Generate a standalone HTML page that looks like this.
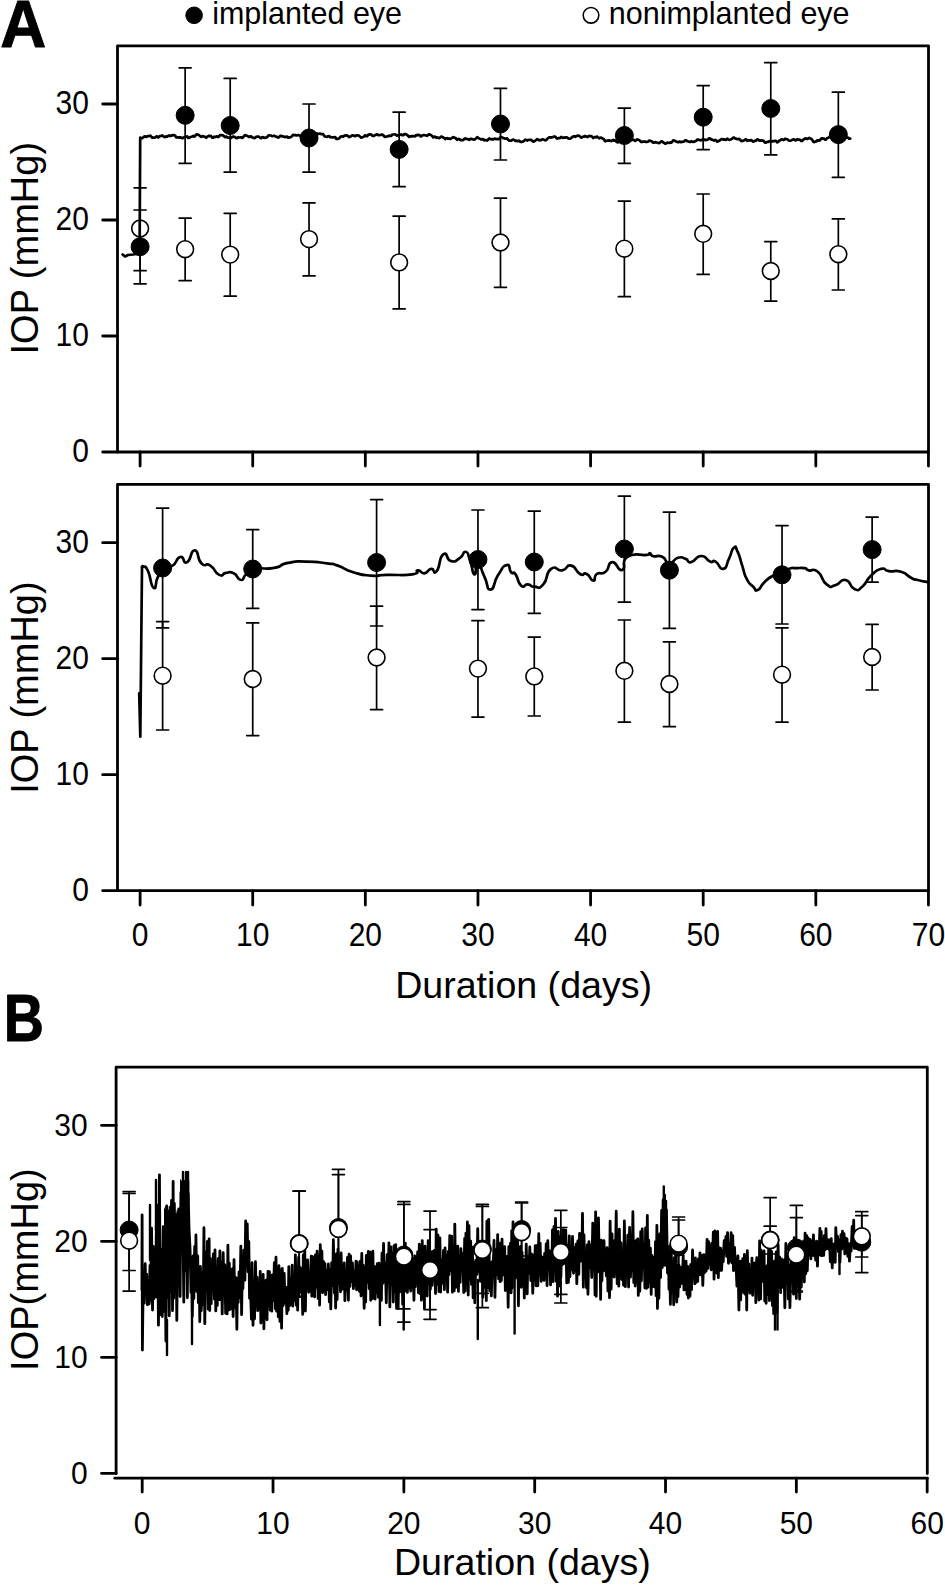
<!DOCTYPE html>
<html><head><meta charset="utf-8"><style>
html,body{margin:0;padding:0;background:#fff;}
svg{display:block;}
text{font-family:"Liberation Sans",Arial,sans-serif;fill:#000;}
</style></head><body>
<svg width="945" height="1585" viewBox="0 0 945 1585" stroke="#000" fill="#000">
<rect x="0" y="0" width="945" height="1585" fill="#fff" stroke="none"/>
<g>
<rect x="117.5" y="45.8" width="811.00" height="406.20" fill="none" stroke-width="2.8" stroke-linejoin="round"/>
<line x1="102.70" y1="452.00" x2="117.50" y2="452.00" stroke-width="2.8" stroke-linecap="round"/>
<text stroke="none" transform="translate(88.90,462.40) scale(1,1.1)" font-size="30" text-anchor="end">0</text>
<line x1="102.70" y1="336.00" x2="117.50" y2="336.00" stroke-width="2.8" stroke-linecap="round"/>
<text stroke="none" transform="translate(88.90,346.40) scale(1,1.1)" font-size="30" text-anchor="end">10</text>
<line x1="102.70" y1="220.00" x2="117.50" y2="220.00" stroke-width="2.8" stroke-linecap="round"/>
<text stroke="none" transform="translate(88.90,230.40) scale(1,1.1)" font-size="30" text-anchor="end">20</text>
<line x1="102.70" y1="104.00" x2="117.50" y2="104.00" stroke-width="2.8" stroke-linecap="round"/>
<text stroke="none" transform="translate(88.90,114.40) scale(1,1.1)" font-size="30" text-anchor="end">30</text>
<line x1="140.10" y1="452.00" x2="140.10" y2="466.00" stroke-width="2.8" stroke-linecap="round"/>
<line x1="252.72" y1="452.00" x2="252.72" y2="466.00" stroke-width="2.8" stroke-linecap="round"/>
<line x1="365.34" y1="452.00" x2="365.34" y2="466.00" stroke-width="2.8" stroke-linecap="round"/>
<line x1="477.96" y1="452.00" x2="477.96" y2="466.00" stroke-width="2.8" stroke-linecap="round"/>
<line x1="590.58" y1="452.00" x2="590.58" y2="466.00" stroke-width="2.8" stroke-linecap="round"/>
<line x1="703.20" y1="452.00" x2="703.20" y2="466.00" stroke-width="2.8" stroke-linecap="round"/>
<line x1="815.82" y1="452.00" x2="815.82" y2="466.00" stroke-width="2.8" stroke-linecap="round"/>
<line x1="928.44" y1="452.00" x2="928.44" y2="466.00" stroke-width="2.8" stroke-linecap="round"/>
<rect x="117.5" y="484.3" width="811.00" height="406.40" fill="none" stroke-width="2.8" stroke-linejoin="round"/>
<line x1="102.70" y1="890.70" x2="117.50" y2="890.70" stroke-width="2.8" stroke-linecap="round"/>
<text stroke="none" transform="translate(88.90,901.10) scale(1,1.1)" font-size="30" text-anchor="end">0</text>
<line x1="102.70" y1="774.70" x2="117.50" y2="774.70" stroke-width="2.8" stroke-linecap="round"/>
<text stroke="none" transform="translate(88.90,785.10) scale(1,1.1)" font-size="30" text-anchor="end">10</text>
<line x1="102.70" y1="658.70" x2="117.50" y2="658.70" stroke-width="2.8" stroke-linecap="round"/>
<text stroke="none" transform="translate(88.90,669.10) scale(1,1.1)" font-size="30" text-anchor="end">20</text>
<line x1="102.70" y1="542.70" x2="117.50" y2="542.70" stroke-width="2.8" stroke-linecap="round"/>
<text stroke="none" transform="translate(88.90,553.10) scale(1,1.1)" font-size="30" text-anchor="end">30</text>
<line x1="140.10" y1="890.70" x2="140.10" y2="905.00" stroke-width="2.8" stroke-linecap="round"/>
<text stroke="none" transform="translate(140.10,946.20) scale(1,1.1)" font-size="30" text-anchor="middle">0</text>
<line x1="252.72" y1="890.70" x2="252.72" y2="905.00" stroke-width="2.8" stroke-linecap="round"/>
<text stroke="none" transform="translate(252.72,946.20) scale(1,1.1)" font-size="30" text-anchor="middle">10</text>
<line x1="365.34" y1="890.70" x2="365.34" y2="905.00" stroke-width="2.8" stroke-linecap="round"/>
<text stroke="none" transform="translate(365.34,946.20) scale(1,1.1)" font-size="30" text-anchor="middle">20</text>
<line x1="477.96" y1="890.70" x2="477.96" y2="905.00" stroke-width="2.8" stroke-linecap="round"/>
<text stroke="none" transform="translate(477.96,946.20) scale(1,1.1)" font-size="30" text-anchor="middle">30</text>
<line x1="590.58" y1="890.70" x2="590.58" y2="905.00" stroke-width="2.8" stroke-linecap="round"/>
<text stroke="none" transform="translate(590.58,946.20) scale(1,1.1)" font-size="30" text-anchor="middle">40</text>
<line x1="703.20" y1="890.70" x2="703.20" y2="905.00" stroke-width="2.8" stroke-linecap="round"/>
<text stroke="none" transform="translate(703.20,946.20) scale(1,1.1)" font-size="30" text-anchor="middle">50</text>
<line x1="815.82" y1="890.70" x2="815.82" y2="905.00" stroke-width="2.8" stroke-linecap="round"/>
<text stroke="none" transform="translate(815.82,946.20) scale(1,1.1)" font-size="30" text-anchor="middle">60</text>
<line x1="928.44" y1="890.70" x2="928.44" y2="905.00" stroke-width="2.8" stroke-linecap="round"/>
<text stroke="none" transform="translate(928.44,946.20) scale(1,1.1)" font-size="30" text-anchor="middle">70</text>
<path d="M116.1,1473.5 L116.1,1067.2 L927.3,1067.2 L927.3,1473.5" fill="none" stroke-width="2.8" stroke-linejoin="round" stroke-linecap="round"/>
<line x1="114.80" y1="1478.20" x2="927.30" y2="1478.20" stroke-width="2.8" stroke-linecap="round"/>
<line x1="101.50" y1="1473.30" x2="116.10" y2="1473.30" stroke-width="2.8" stroke-linecap="round"/>
<text stroke="none" transform="translate(87.70,1483.70) scale(1,1.05)" font-size="30" text-anchor="end">0</text>
<line x1="101.50" y1="1357.30" x2="116.10" y2="1357.30" stroke-width="2.8" stroke-linecap="round"/>
<text stroke="none" transform="translate(87.70,1367.70) scale(1,1.05)" font-size="30" text-anchor="end">10</text>
<line x1="101.50" y1="1241.30" x2="116.10" y2="1241.30" stroke-width="2.8" stroke-linecap="round"/>
<text stroke="none" transform="translate(87.70,1251.70) scale(1,1.05)" font-size="30" text-anchor="end">20</text>
<line x1="101.50" y1="1125.30" x2="116.10" y2="1125.30" stroke-width="2.8" stroke-linecap="round"/>
<text stroke="none" transform="translate(87.70,1135.70) scale(1,1.05)" font-size="30" text-anchor="end">30</text>
<line x1="142.20" y1="1478.20" x2="142.20" y2="1492.00" stroke-width="2.8" stroke-linecap="round"/>
<text stroke="none" transform="translate(142.20,1533.80) scale(1,1.05)" font-size="30" text-anchor="middle">0</text>
<line x1="273.03" y1="1478.20" x2="273.03" y2="1492.00" stroke-width="2.8" stroke-linecap="round"/>
<text stroke="none" transform="translate(273.03,1533.80) scale(1,1.05)" font-size="30" text-anchor="middle">10</text>
<line x1="403.86" y1="1478.20" x2="403.86" y2="1492.00" stroke-width="2.8" stroke-linecap="round"/>
<text stroke="none" transform="translate(403.86,1533.80) scale(1,1.05)" font-size="30" text-anchor="middle">20</text>
<line x1="534.69" y1="1478.20" x2="534.69" y2="1492.00" stroke-width="2.8" stroke-linecap="round"/>
<text stroke="none" transform="translate(534.69,1533.80) scale(1,1.05)" font-size="30" text-anchor="middle">30</text>
<line x1="665.52" y1="1478.20" x2="665.52" y2="1492.00" stroke-width="2.8" stroke-linecap="round"/>
<text stroke="none" transform="translate(665.52,1533.80) scale(1,1.05)" font-size="30" text-anchor="middle">40</text>
<line x1="796.35" y1="1478.20" x2="796.35" y2="1492.00" stroke-width="2.8" stroke-linecap="round"/>
<text stroke="none" transform="translate(796.35,1533.80) scale(1,1.05)" font-size="30" text-anchor="middle">50</text>
<line x1="927.18" y1="1478.20" x2="927.18" y2="1492.00" stroke-width="2.8" stroke-linecap="round"/>
<text stroke="none" transform="translate(927.18,1533.80) scale(1,1.05)" font-size="30" text-anchor="middle">60</text>
<path d="M139.20,693.30 L140.30,736.70 L142.00,567.00 L143.70,566.70" fill="none" stroke-width="2.7" stroke-linejoin="round" stroke-linecap="round"/>
<path d="M142.00,567.00 C142.57,566.90 141.70,565.37 143.70,566.70 C145.70,568.03 144.67,563.97 148.00,571.00 C151.33,578.03 150.37,585.90 153.70,587.80 C157.03,589.70 154.23,583.97 158.00,576.70 C161.77,569.43 160.13,569.70 165.00,566.00 C169.87,562.30 167.50,568.60 172.60,565.60 C177.70,562.60 175.50,558.13 180.30,557.00 C185.10,555.87 182.17,564.40 187.00,562.20 C191.83,560.00 190.00,550.03 194.80,550.40 C199.60,550.77 196.23,558.23 201.40,563.30 C206.57,568.37 204.37,561.73 210.30,565.60 C216.23,569.47 214.00,572.47 219.20,574.90 C224.40,577.33 221.07,573.43 225.90,572.90 C230.73,572.37 228.73,570.93 233.70,573.30 C238.67,575.67 236.73,579.63 240.80,580.00 C244.87,580.37 241.97,578.23 245.90,574.40 C249.83,570.57 243.70,570.57 252.60,568.50 C261.50,566.43 260.77,570.07 272.60,568.20 C284.43,566.33 277.00,565.10 288.10,562.90 C299.20,560.70 292.93,561.47 305.90,561.60 C318.87,561.73 316.37,561.97 327.00,563.30 C337.63,564.63 329.03,562.63 337.80,565.60 C346.57,568.57 342.20,568.87 353.30,572.20 C364.40,575.53 359.97,574.70 371.10,575.60 C382.23,576.50 373.00,575.30 386.70,574.90 C400.40,574.50 401.83,575.90 412.20,574.40 C422.57,572.90 413.73,570.77 417.80,570.40 C421.87,570.03 419.97,573.80 424.40,573.30 C428.83,572.80 427.00,569.63 431.10,568.90 C435.20,568.17 432.63,575.93 436.70,571.10 C440.77,566.27 438.50,557.73 443.30,554.40 C448.10,551.07 445.53,559.97 451.10,561.10 C456.67,562.23 455.17,560.90 460.00,557.80 C464.83,554.70 462.27,551.07 465.60,551.80 C468.93,552.53 467.07,552.47 470.00,560.00 C472.93,567.53 471.80,573.30 474.40,574.40 C477.00,575.50 474.47,562.53 477.80,563.30 C481.13,564.07 480.10,567.93 484.40,576.70 C488.70,585.47 486.23,589.97 490.70,589.60 C495.17,589.23 492.47,583.77 497.80,575.60 C503.13,567.43 502.27,566.23 506.70,565.10 C511.13,563.97 508.13,569.10 511.10,572.20 C514.07,575.30 512.27,569.93 515.60,574.40 C518.93,578.87 517.03,582.27 521.10,585.60 C525.17,588.93 523.37,584.03 527.80,584.40 C532.23,584.77 529.23,586.70 534.40,586.70 C539.57,586.70 537.73,590.33 543.30,584.40 C548.87,578.47 544.80,573.57 551.10,568.90 C557.40,564.23 555.53,571.50 562.20,570.40 C568.87,569.30 565.17,564.40 571.10,565.60 C577.03,566.80 574.80,571.20 580.00,574.00 C585.20,576.80 582.27,571.77 586.70,574.00 C591.13,576.23 589.97,580.70 593.30,580.70 C596.63,580.70 592.60,576.97 596.70,574.00 C600.80,571.03 600.43,575.73 605.60,571.80 C610.77,567.87 606.67,562.80 612.20,562.20 C617.73,561.60 617.00,571.83 622.20,570.00 C627.40,568.17 619.63,561.73 627.80,556.70 C635.97,551.67 639.30,556.03 646.70,554.90 C654.10,553.77 647.80,552.87 650.00,553.30 C652.20,553.73 649.23,555.07 653.30,556.20 C657.37,557.33 656.87,554.33 662.20,556.70 C667.53,559.07 664.10,562.93 669.30,563.30 C674.50,563.67 672.37,559.27 677.80,557.80 C683.23,556.33 681.17,557.43 685.60,558.90 C690.03,560.37 685.93,563.17 691.10,562.20 C696.27,561.23 694.80,556.20 701.10,556.00 C707.40,555.80 705.17,559.73 710.00,561.60 C714.83,563.47 711.17,559.17 715.60,561.60 C720.03,564.03 718.87,569.80 723.30,568.90 C727.73,568.00 725.40,565.93 728.90,558.90 C732.40,551.87 730.83,550.03 733.80,547.80 C736.77,545.57 735.00,546.27 737.80,552.20 C740.60,558.13 739.23,556.70 742.20,565.60 C745.17,574.50 743.00,571.87 746.70,578.90 C750.40,585.93 749.60,583.00 753.30,586.70 C757.00,590.40 754.10,591.50 757.80,590.00 C761.50,588.50 759.23,587.00 764.40,582.20 C769.57,577.40 767.50,578.67 773.30,575.60 C779.10,572.53 776.23,575.37 781.80,573.00 C787.37,570.63 785.40,570.10 790.00,568.50 C794.60,566.90 790.80,568.30 795.60,568.20 C800.40,568.10 799.97,567.47 804.40,568.20 C808.83,568.93 804.43,569.20 808.90,570.40 C813.37,571.60 811.87,567.13 817.80,571.80 C823.73,576.47 820.77,579.97 826.70,584.40 C832.63,588.83 829.30,586.57 835.60,585.10 C841.90,583.63 839.33,578.73 845.60,580.00 C851.87,581.27 848.87,586.67 854.40,588.90 C859.93,591.13 856.63,591.13 862.20,586.70 C867.77,582.27 864.80,581.53 871.10,575.60 C877.40,569.67 875.17,570.40 881.10,568.90 C887.03,567.40 882.23,570.13 888.90,571.10 C895.57,572.07 893.70,569.57 901.10,571.80 C908.50,574.03 905.53,575.07 911.10,577.80 C916.67,580.53 912.23,578.53 917.80,580.00 C923.37,581.47 924.47,581.47 927.80,582.20" fill="none" stroke-width="2.7" stroke-linejoin="round" stroke-linecap="round"/>
<path d="M140.10,210.00V283.80M134.10,210.00h12.0M134.10,283.80h12.0" stroke-width="1.7" fill="none" stroke-linecap="round"/>
<path d="M185.15,67.80V163.30M179.15,67.80h12.0M179.15,163.30h12.0" stroke-width="1.7" fill="none" stroke-linecap="round"/>
<path d="M230.20,78.40V172.20M224.20,78.40h12.0M224.20,172.20h12.0" stroke-width="1.7" fill="none" stroke-linecap="round"/>
<path d="M309.03,104.00V172.20M303.03,104.00h12.0M303.03,172.20h12.0" stroke-width="1.7" fill="none" stroke-linecap="round"/>
<path d="M399.13,112.20V186.70M393.13,112.20h12.0M393.13,186.70h12.0" stroke-width="1.7" fill="none" stroke-linecap="round"/>
<path d="M500.48,88.40V160.00M494.48,88.40h12.0M494.48,160.00h12.0" stroke-width="1.7" fill="none" stroke-linecap="round"/>
<path d="M624.37,108.20V163.30M618.37,108.20h12.0M618.37,163.30h12.0" stroke-width="1.7" fill="none" stroke-linecap="round"/>
<path d="M703.20,85.60V149.60M697.20,85.60h12.0M697.20,149.60h12.0" stroke-width="1.7" fill="none" stroke-linecap="round"/>
<path d="M770.77,62.70V154.90M764.77,62.70h12.0M764.77,154.90h12.0" stroke-width="1.7" fill="none" stroke-linecap="round"/>
<path d="M838.34,92.20V177.30M832.34,92.20h12.0M832.34,177.30h12.0" stroke-width="1.7" fill="none" stroke-linecap="round"/>
<path d="M140.10,187.80V270.70M134.10,187.80h12.0M134.10,270.70h12.0" stroke-width="1.7" fill="none" stroke-linecap="round"/>
<path d="M185.15,218.20V280.70M179.15,218.20h12.0M179.15,280.70h12.0" stroke-width="1.7" fill="none" stroke-linecap="round"/>
<path d="M230.20,213.30V296.20M224.20,213.30h12.0M224.20,296.20h12.0" stroke-width="1.7" fill="none" stroke-linecap="round"/>
<path d="M309.03,202.90V275.80M303.03,202.90h12.0M303.03,275.80h12.0" stroke-width="1.7" fill="none" stroke-linecap="round"/>
<path d="M399.13,216.20V308.90M393.13,216.20h12.0M393.13,308.90h12.0" stroke-width="1.7" fill="none" stroke-linecap="round"/>
<path d="M500.48,198.20V287.30M494.48,198.20h12.0M494.48,287.30h12.0" stroke-width="1.7" fill="none" stroke-linecap="round"/>
<path d="M624.37,201.10V296.70M618.37,201.10h12.0M618.37,296.70h12.0" stroke-width="1.7" fill="none" stroke-linecap="round"/>
<path d="M703.20,194.00V274.40M697.20,194.00h12.0M697.20,274.40h12.0" stroke-width="1.7" fill="none" stroke-linecap="round"/>
<path d="M770.77,241.60V301.10M764.77,241.60h12.0M764.77,301.10h12.0" stroke-width="1.7" fill="none" stroke-linecap="round"/>
<path d="M838.34,218.90V290.00M832.34,218.90h12.0M832.34,290.00h12.0" stroke-width="1.7" fill="none" stroke-linecap="round"/>
<circle cx="140.10" cy="246.70" r="9.0"/>
<circle cx="185.15" cy="115.30" r="9.0"/>
<circle cx="230.20" cy="125.50" r="9.0"/>
<circle cx="309.03" cy="138.00" r="9.0"/>
<circle cx="399.13" cy="149.40" r="9.0"/>
<circle cx="500.48" cy="124.00" r="9.0"/>
<circle cx="624.37" cy="135.50" r="9.0"/>
<circle cx="703.20" cy="117.20" r="9.0"/>
<circle cx="770.77" cy="108.50" r="9.0"/>
<circle cx="838.34" cy="134.60" r="9.0"/>
<circle cx="140.10" cy="228.50" r="8.4" fill="#fff" stroke-width="1.6"/>
<circle cx="185.15" cy="249.20" r="8.4" fill="#fff" stroke-width="1.6"/>
<circle cx="230.20" cy="254.60" r="8.4" fill="#fff" stroke-width="1.6"/>
<circle cx="309.03" cy="239.10" r="8.4" fill="#fff" stroke-width="1.6"/>
<circle cx="399.13" cy="262.40" r="8.4" fill="#fff" stroke-width="1.6"/>
<circle cx="500.48" cy="242.50" r="8.4" fill="#fff" stroke-width="1.6"/>
<circle cx="624.37" cy="248.70" r="8.4" fill="#fff" stroke-width="1.6"/>
<circle cx="703.20" cy="233.80" r="8.4" fill="#fff" stroke-width="1.6"/>
<circle cx="770.77" cy="271.00" r="8.4" fill="#fff" stroke-width="1.6"/>
<circle cx="838.34" cy="254.20" r="8.4" fill="#fff" stroke-width="1.6"/>
<path d="M122.60,254.50 L125.00,256.50 L128.00,255.00 L133.00,254.50 L139.60,253.50 L140.20,137.70 L140.20,138.20 L141.20,138.00 L142.20,138.07 L143.20,137.36 L144.20,136.61 L145.20,136.33 L146.20,136.99 L147.20,136.21 L148.20,136.04 L149.20,136.14 L150.20,135.61 L151.20,136.45 L152.20,137.77 L153.20,137.52 L154.20,137.71 L155.20,137.50 L156.20,136.60 L157.20,136.42 L158.20,137.47 L159.20,136.61 L160.20,136.00 L161.20,135.96 L162.20,135.46 L163.20,136.06 L164.20,136.92 L165.20,137.12 L166.20,136.44 L167.20,136.59 L168.20,135.91 L169.20,135.42 L170.20,136.09 L171.20,135.67 L172.20,135.43 L173.20,135.16 L174.20,135.20 L175.20,135.71 L176.20,137.32 L177.20,137.53 L178.20,137.28 L179.20,137.62 L180.20,137.35 L181.20,137.66 L182.20,138.26 L183.20,137.94 L184.20,137.02 L185.20,136.99 L186.20,136.49 L187.20,136.47 L188.20,137.94 L189.20,137.89 L190.20,137.13 L191.20,136.79 L192.20,136.39 L193.20,135.88 L194.20,136.71 L195.20,135.92 L196.20,134.65 L197.20,134.38 L198.20,134.79 L199.20,135.31 L200.20,136.06 L201.20,136.80 L202.20,136.20 L203.20,136.37 L204.20,136.53 L205.20,136.95 L206.20,137.73 L207.20,136.83 L208.20,136.13 L209.20,135.71 L210.20,136.15 L211.20,136.22 L212.20,137.62 L213.20,137.74 L214.20,136.73 L215.20,137.08 L216.20,136.60 L217.20,136.31 L218.20,137.06 L219.20,136.15 L220.20,135.01 L221.20,135.00 L222.20,135.29 L223.20,135.37 L224.20,136.48 L225.20,137.30 L226.20,136.49 L227.20,137.28 L228.20,137.66 L229.20,137.51 L230.20,138.20 L231.20,137.89 L232.20,136.79 L233.20,136.65 L234.20,136.87 L235.20,137.12 L236.20,138.21 L237.20,138.06 L238.20,137.22 L239.20,137.49 L240.20,137.43 L241.20,137.30 L242.20,137.96 L243.20,137.11 L244.20,135.69 L245.20,135.07 L246.20,135.57 L247.20,135.83 L248.20,136.35 L249.20,136.99 L250.20,136.41 L251.20,136.45 L252.20,137.48 L253.20,137.55 L254.20,138.16 L255.20,137.72 L256.20,136.73 L257.20,136.61 L258.20,136.65 L259.20,136.84 L260.20,137.90 L261.20,138.24 L262.20,137.03 L263.20,137.29 L264.20,137.91 L265.20,137.62 L266.20,137.70 L267.20,137.12 L268.20,135.64 L269.20,135.34 L270.20,135.50 L271.20,135.54 L272.20,136.26 L273.20,136.02 L274.20,135.70 L275.20,136.12 L276.20,136.79 L277.20,136.93 L278.20,137.55 L279.20,137.02 L280.20,135.80 L281.20,135.75 L282.20,136.54 L283.20,136.31 L284.20,136.86 L285.20,137.09 L286.20,136.71 L287.20,136.66 L288.20,137.75 L289.20,137.32 L290.20,137.31 L291.20,137.02 L292.20,135.71 L293.20,134.91 L294.20,135.20 L295.20,135.02 L296.20,135.37 L297.20,135.30 L298.20,135.04 L299.20,135.31 L300.20,136.01 L301.20,136.23 L302.20,136.52 L303.20,136.20 L304.20,135.15 L305.20,134.53 L306.20,135.08 L307.20,135.22 L308.20,135.57 L309.20,135.42 L310.20,134.87 L311.20,135.05 L312.20,136.07 L313.20,136.12 L314.20,136.08 L315.20,135.15 L316.20,133.68 L317.20,133.56 L318.20,133.93 L319.20,133.82 L320.20,133.55 L321.20,134.23 L322.20,134.00 L323.20,134.09 L324.20,135.95 L325.20,136.66 L326.20,136.72 L327.20,136.85 L328.20,136.15 L329.20,136.21 L330.20,137.23 L331.20,137.22 L332.20,137.33 L333.20,137.33 L334.20,137.28 L335.20,137.04 L336.20,138.80 L337.20,138.95 L338.20,138.65 L339.20,138.29 L340.20,137.22 L341.20,136.37 L342.20,136.51 L343.20,136.71 L344.20,135.71 L345.20,135.65 L346.20,135.38 L347.20,135.35 L348.20,136.47 L349.20,137.12 L350.20,136.49 L351.20,136.15 L352.20,135.37 L353.20,135.34 L354.20,135.87 L355.20,136.14 L356.20,135.39 L357.20,135.39 L358.20,135.45 L359.20,135.86 L360.20,136.81 L361.20,137.68 L362.20,137.28 L363.20,136.99 L364.20,136.30 L365.20,135.24 L366.20,136.13 L367.20,136.10 L368.20,134.71 L369.20,134.61 L370.20,134.32 L371.20,134.50 L372.20,135.62 L373.20,136.09 L374.20,135.69 L375.20,135.04 L376.20,134.64 L377.20,134.32 L378.20,135.04 L379.20,135.13 L380.20,134.96 L381.20,134.89 L382.20,134.54 L383.20,135.09 L384.20,136.35 L385.20,137.00 L386.20,136.49 L387.20,136.51 L388.20,136.14 L389.20,135.54 L390.20,135.90 L391.20,135.86 L392.20,134.63 L393.20,134.50 L394.20,134.48 L395.20,134.28 L396.20,135.15 L397.20,135.69 L398.20,135.09 L399.20,134.98 L400.20,134.91 L401.20,134.36 L402.20,135.20 L403.20,135.22 L404.20,134.19 L405.20,134.02 L406.20,134.41 L407.20,134.89 L408.20,136.01 L409.20,136.97 L410.20,136.32 L411.20,136.09 L412.20,136.34 L413.20,136.16 L414.20,136.20 L415.20,136.38 L416.20,135.17 L417.20,134.95 L418.20,135.09 L419.20,134.79 L420.20,135.99 L421.20,136.46 L422.20,135.38 L423.20,135.21 L424.20,135.11 L425.20,135.28 L426.20,135.56 L427.20,135.78 L428.20,134.65 L429.20,134.23 L430.20,134.76 L431.20,135.16 L432.20,136.12 L433.20,137.40 L434.20,136.71 L435.20,136.85 L436.20,137.80 L437.20,137.42 L438.20,137.91 L439.20,138.07 L440.20,137.44 L441.20,136.54 L442.20,136.87 L443.20,137.59 L444.20,137.95 L445.20,139.05 L446.20,138.33 L447.20,138.21 L448.20,138.77 L449.20,138.54 L450.20,138.93 L451.20,138.48 L452.20,137.75 L453.20,137.04 L454.20,137.72 L455.20,137.73 L456.20,138.94 L457.20,139.88 L458.20,138.94 L459.20,139.02 L460.20,139.90 L461.20,140.21 L462.20,140.05 L463.20,140.07 L464.20,138.93 L465.20,138.43 L466.20,138.96 L467.20,138.92 L468.20,139.32 L469.20,139.82 L470.20,139.10 L471.20,138.74 L472.20,139.11 L473.20,139.37 L474.20,139.57 L475.20,139.15 L476.20,138.16 L477.20,137.07 L478.20,137.97 L479.20,138.40 L480.20,138.87 L481.20,139.50 L482.20,139.15 L483.20,139.15 L484.20,140.28 L485.20,140.21 L486.20,140.18 L487.20,140.56 L488.20,139.54 L489.20,138.47 L490.20,138.92 L491.20,139.31 L492.20,139.09 L493.20,139.49 L494.20,138.82 L495.20,138.58 L496.20,139.09 L497.20,139.18 L498.20,139.10 L499.20,138.99 L500.20,137.43 L501.20,136.89 L502.20,137.38 L503.20,138.14 L504.20,138.25 L505.20,138.71 L506.20,138.55 L507.20,138.43 L508.20,139.93 L509.20,140.59 L510.20,140.50 L511.20,140.73 L512.20,139.95 L513.20,139.55 L514.20,139.90 L515.20,140.92 L516.20,140.65 L517.20,141.12 L518.20,140.76 L519.20,140.72 L520.20,141.68 L521.20,142.03 L522.20,141.64 L523.20,141.57 L524.20,140.74 L525.20,139.56 L526.20,140.12 L527.20,140.53 L528.20,139.95 L529.20,139.98 L530.20,139.73 L531.20,139.79 L532.20,140.82 L533.20,141.68 L534.20,141.31 L535.20,140.75 L536.20,139.96 L537.20,139.15 L538.20,139.61 L539.20,140.32 L540.20,140.03 L541.20,140.07 L542.20,139.38 L543.20,139.35 L544.20,139.84 L545.20,140.39 L546.20,139.91 L547.20,138.96 L548.20,138.02 L549.20,137.37 L550.20,137.29 L551.20,137.59 L552.20,137.15 L553.20,137.09 L554.20,136.55 L555.20,136.54 L556.20,137.71 L557.20,138.65 L558.20,138.15 L559.20,138.16 L560.20,137.94 L561.20,136.92 L562.20,137.54 L563.20,137.85 L564.20,137.47 L565.20,137.61 L566.20,137.27 L567.20,137.56 L568.20,138.49 L569.20,138.76 L570.20,138.64 L571.20,137.72 L572.20,137.32 L573.20,136.37 L574.20,136.29 L575.20,136.84 L576.20,136.07 L577.20,135.82 L578.20,135.52 L579.20,135.72 L580.20,136.83 L581.20,137.66 L582.20,137.18 L583.20,136.57 L584.20,136.59 L585.20,135.95 L586.20,136.56 L587.20,137.08 L588.20,136.37 L589.20,135.80 L590.20,136.22 L591.20,136.15 L592.20,136.72 L593.20,138.01 L594.20,137.34 L595.20,136.85 L596.20,137.45 L597.20,136.71 L598.20,137.37 L599.20,138.38 L600.20,137.88 L601.20,137.70 L602.20,138.35 L603.20,138.70 L604.20,139.93 L605.20,141.25 L606.20,140.79 L607.20,140.70 L608.20,140.74 L609.20,140.28 L610.20,140.73 L611.20,141.09 L612.20,140.39 L613.20,139.98 L614.20,140.65 L615.20,140.36 L616.20,141.48 L617.20,142.35 L618.20,142.20 L619.20,141.27 L620.20,141.16 L621.20,140.71 L622.20,140.75 L623.20,141.13 L624.20,139.89 L625.20,139.30 L626.20,139.03 L627.20,139.22 L628.20,139.76 L629.20,140.74 L630.20,140.73 L631.20,140.10 L632.20,139.96 L633.20,139.83 L634.20,140.13 L635.20,140.84 L636.20,140.19 L637.20,139.47 L638.20,139.85 L639.20,140.00 L640.20,140.91 L641.20,141.99 L642.20,142.02 L643.20,141.53 L644.20,141.63 L645.20,141.63 L646.20,141.97 L647.20,141.84 L648.20,141.46 L649.20,140.59 L650.20,140.97 L651.20,141.02 L652.20,141.71 L653.20,142.73 L654.20,142.56 L655.20,142.21 L656.20,142.51 L657.20,142.54 L658.20,142.99 L659.20,143.03 L660.20,142.32 L661.20,141.46 L662.20,141.44 L663.20,142.42 L664.20,142.86 L665.20,143.64 L666.20,143.40 L667.20,142.63 L668.20,142.75 L669.20,143.02 L670.20,142.42 L671.20,142.67 L672.20,141.73 L673.20,140.30 L674.20,140.46 L675.20,141.05 L676.20,141.47 L677.20,141.91 L678.20,142.26 L679.20,141.65 L680.20,141.86 L681.20,142.23 L682.20,141.85 L683.20,141.76 L684.20,141.22 L685.20,140.33 L686.20,140.29 L687.20,141.23 L688.20,141.41 L689.20,141.75 L690.20,142.03 L691.20,141.17 L692.20,141.76 L693.20,141.98 L694.20,141.64 L695.20,141.32 L696.20,140.76 L697.20,139.57 L698.20,139.67 L699.20,139.92 L700.20,140.13 L701.20,140.36 L702.20,139.91 L703.20,139.10 L704.20,139.54 L705.20,140.14 L706.20,139.83 L707.20,139.93 L708.20,139.40 L709.20,138.24 L710.20,138.54 L711.20,139.53 L712.20,139.57 L713.20,140.25 L714.20,140.56 L715.20,139.88 L716.20,140.40 L717.20,141.63 L718.20,141.29 L719.20,140.86 L720.20,140.18 L721.20,139.06 L722.20,139.21 L723.20,139.61 L724.20,139.35 L725.20,139.60 L726.20,139.82 L727.20,138.75 L728.20,139.35 L729.20,139.91 L730.20,139.56 L731.20,139.17 L732.20,138.71 L733.20,137.50 L734.20,137.64 L735.20,138.58 L736.20,138.71 L737.20,139.19 L738.20,139.17 L739.20,138.84 L740.20,139.83 L741.20,141.00 L742.20,141.14 L743.20,140.54 L744.20,140.38 L745.20,139.45 L746.20,139.43 L747.20,140.85 L748.20,140.33 L749.20,140.25 L750.20,140.59 L751.20,140.01 L752.20,140.83 L753.20,141.67 L754.20,141.27 L755.20,140.65 L756.20,140.55 L757.20,139.31 L758.20,139.72 L759.20,140.43 L760.20,140.68 L761.20,140.29 L762.20,140.60 L763.20,140.51 L764.20,141.59 L765.20,142.74 L766.20,142.51 L767.20,141.89 L768.20,141.94 L769.20,141.30 L770.20,141.11 L771.20,141.56 L772.20,141.35 L773.20,141.01 L774.20,141.15 L775.20,140.75 L776.20,141.04 L777.20,142.28 L778.20,141.98 L779.20,140.64 L780.20,140.53 L781.20,139.27 L782.20,139.28 L783.20,140.03 L784.20,139.75 L785.20,138.73 L786.20,139.11 L787.20,139.25 L788.20,140.03 L789.20,140.74 L790.20,140.77 L791.20,140.41 L792.20,139.80 L793.20,139.41 L794.20,139.35 L795.20,140.34 L796.20,140.24 L797.20,139.17 L798.20,139.64 L799.20,139.58 L800.20,140.02 L801.20,140.88 L802.20,140.85 L803.20,139.55 L804.20,139.18 L805.20,138.43 L806.20,138.53 L807.20,138.99 L808.20,138.57 L809.20,137.83 L810.20,138.43 L811.20,138.72 L812.20,139.90 L813.20,141.52 L814.20,142.19 L815.20,141.61 L816.20,141.49 L817.20,140.43 L818.20,140.24 L819.20,140.73 L820.20,140.05 L821.20,138.49 L822.20,138.34 L823.20,138.58 L824.20,138.69 L825.20,139.71 L826.20,139.43 L827.20,137.98 L828.20,137.79 L829.20,137.16 L830.20,136.45 L831.20,136.80 L832.20,136.24 L833.20,135.48 L834.20,135.98 L835.20,135.90 L836.20,136.70 L837.20,137.62 L838.20,137.80 L839.20,137.37 L840.20,137.15 L841.20,137.11 L842.20,137.09 L843.20,137.97 L844.20,137.73 L845.20,136.44 L846.20,136.73 L847.20,137.68 L848.20,137.60 L849.20,138.74 L850.20,138.66" fill="none" stroke-width="2.7" stroke-linejoin="round" stroke-linecap="round"/>
<path d="M162.62,508.20V627.80M156.62,508.20h12.0M156.62,627.80h12.0" stroke-width="1.7" fill="none" stroke-linecap="round"/>
<path d="M252.72,529.60V608.40M246.72,529.60h12.0M246.72,608.40h12.0" stroke-width="1.7" fill="none" stroke-linecap="round"/>
<path d="M376.60,499.60V626.00M370.60,499.60h12.0M370.60,626.00h12.0" stroke-width="1.7" fill="none" stroke-linecap="round"/>
<path d="M477.96,510.00V609.60M471.96,510.00h12.0M471.96,609.60h12.0" stroke-width="1.7" fill="none" stroke-linecap="round"/>
<path d="M534.27,511.10V613.30M528.27,511.10h12.0M528.27,613.30h12.0" stroke-width="1.7" fill="none" stroke-linecap="round"/>
<path d="M624.37,496.20V602.20M618.37,496.20h12.0M618.37,602.20h12.0" stroke-width="1.7" fill="none" stroke-linecap="round"/>
<path d="M669.41,512.20V628.40M663.41,512.20h12.0M663.41,628.40h12.0" stroke-width="1.7" fill="none" stroke-linecap="round"/>
<path d="M782.03,525.60V624.00M776.03,525.60h12.0M776.03,624.00h12.0" stroke-width="1.7" fill="none" stroke-linecap="round"/>
<path d="M872.13,517.10V582.20M866.13,517.10h12.0M866.13,582.20h12.0" stroke-width="1.7" fill="none" stroke-linecap="round"/>
<path d="M162.62,621.60V730.00M156.62,621.60h12.0M156.62,730.00h12.0" stroke-width="1.7" fill="none" stroke-linecap="round"/>
<path d="M252.72,622.90V735.60M246.72,622.90h12.0M246.72,735.60h12.0" stroke-width="1.7" fill="none" stroke-linecap="round"/>
<path d="M376.60,606.20V709.60M370.60,606.20h12.0M370.60,709.60h12.0" stroke-width="1.7" fill="none" stroke-linecap="round"/>
<path d="M477.96,620.70V717.10M471.96,620.70h12.0M471.96,717.10h12.0" stroke-width="1.7" fill="none" stroke-linecap="round"/>
<path d="M534.27,637.10V716.00M528.27,637.10h12.0M528.27,716.00h12.0" stroke-width="1.7" fill="none" stroke-linecap="round"/>
<path d="M624.37,620.00V722.20M618.37,620.00h12.0M618.37,722.20h12.0" stroke-width="1.7" fill="none" stroke-linecap="round"/>
<path d="M669.41,641.80V726.70M663.41,641.80h12.0M663.41,726.70h12.0" stroke-width="1.7" fill="none" stroke-linecap="round"/>
<path d="M782.03,627.80V722.20M776.03,627.80h12.0M776.03,722.20h12.0" stroke-width="1.7" fill="none" stroke-linecap="round"/>
<path d="M872.13,624.40V690.00M866.13,624.40h12.0M866.13,690.00h12.0" stroke-width="1.7" fill="none" stroke-linecap="round"/>
<circle cx="162.62" cy="568.00" r="9.0"/>
<circle cx="252.72" cy="569.00" r="9.0"/>
<circle cx="376.60" cy="562.50" r="9.0"/>
<circle cx="477.96" cy="559.50" r="9.0"/>
<circle cx="534.27" cy="562.00" r="9.0"/>
<circle cx="624.37" cy="549.00" r="9.0"/>
<circle cx="669.41" cy="570.20" r="9.0"/>
<circle cx="782.03" cy="574.80" r="9.0"/>
<circle cx="872.13" cy="549.60" r="9.0"/>
<circle cx="162.62" cy="675.70" r="8.4" fill="#fff" stroke-width="1.6"/>
<circle cx="252.72" cy="679.00" r="8.4" fill="#fff" stroke-width="1.6"/>
<circle cx="376.60" cy="657.50" r="8.4" fill="#fff" stroke-width="1.6"/>
<circle cx="477.96" cy="668.60" r="8.4" fill="#fff" stroke-width="1.6"/>
<circle cx="534.27" cy="676.40" r="8.4" fill="#fff" stroke-width="1.6"/>
<circle cx="624.37" cy="670.80" r="8.4" fill="#fff" stroke-width="1.6"/>
<circle cx="669.41" cy="684.00" r="8.4" fill="#fff" stroke-width="1.6"/>
<circle cx="782.03" cy="674.70" r="8.4" fill="#fff" stroke-width="1.6"/>
<circle cx="872.13" cy="657.00" r="8.4" fill="#fff" stroke-width="1.6"/>
<path d="M141.90,1290.00 L142.10,1215.00 L142.40,1350.00 L143.20,1280.00 L143.60,1274.77 L144.25,1303.16 L145.20,1263.69 L145.85,1291.25 L146.73,1274.20 L147.44,1304.81 L148.19,1281.97 L149.21,1303.75 L149.99,1265.48 L150.60,1299.99 L151.55,1228.22 L152.52,1310.04 L153.24,1246.33 L153.98,1298.73 L154.95,1255.38 L155.61,1296.42 L156.56,1204.88 L157.15,1296.35 L157.81,1255.10 L158.46,1325.19 L159.44,1174.85 L160.34,1314.48 L161.38,1249.37 L162.29,1316.55 L163.27,1226.77 L164.11,1311.28 L165.09,1227.74 L165.87,1341.11 L166.66,1205.88 L167.32,1297.31 L168.31,1211.18 L169.26,1315.76 L170.06,1207.10 L170.75,1281.34 L171.51,1200.51 L172.54,1310.63 L173.12,1181.38 L173.69,1298.36 L174.36,1203.40 L175.31,1273.70 L175.95,1230.61 L176.81,1320.42 L177.72,1230.32 L178.46,1269.81 L179.24,1209.00 L180.11,1296.48 L180.88,1192.29 L181.83,1247.57 L182.77,1207.57 L183.78,1302.22 L184.59,1203.34 L185.56,1270.83 L186.55,1203.62 L187.37,1297.81 L188.17,1193.45 L189.07,1229.50 L190.07,1249.55 L191.02,1292.48 L191.64,1270.09 L192.37,1316.03 L193.03,1255.94 L193.84,1298.70 L194.66,1246.47 L195.32,1290.34 L195.93,1234.98 L196.82,1291.50 L197.71,1256.02 L198.35,1302.71 L199.14,1267.22 L199.78,1321.64 L200.42,1266.45 L201.29,1310.65 L202.23,1272.49 L203.18,1304.65 L203.94,1227.74 L204.80,1323.65 L205.64,1252.76 L206.67,1286.00 L207.42,1241.31 L208.25,1309.20 L209.11,1238.84 L209.75,1310.48 L210.34,1258.20 L211.21,1303.66 L211.78,1264.14 L212.70,1289.81 L213.37,1253.81 L214.40,1299.22 L214.99,1249.99 L215.77,1310.87 L216.58,1277.78 L217.31,1305.35 L218.18,1258.75 L219.04,1299.54 L219.90,1250.80 L220.82,1299.88 L221.48,1262.34 L222.20,1313.91 L223.18,1252.72 L224.11,1293.98 L224.74,1264.60 L225.64,1313.27 L226.34,1269.88 L227.08,1313.91 L227.91,1245.06 L228.73,1310.02 L229.32,1263.26 L229.92,1309.39 L230.60,1272.99 L231.35,1308.50 L232.17,1268.83 L233.14,1316.51 L234.01,1259.65 L234.92,1307.72 L235.95,1277.69 L236.88,1329.32 L237.54,1278.45 L238.19,1302.46 L239.02,1271.83 L239.81,1297.60 L240.84,1246.17 L241.58,1314.70 L242.22,1276.00 L242.90,1288.81 L243.86,1250.09 L244.88,1280.21 L245.64,1220.94 L246.35,1266.42 L247.25,1223.80 L248.03,1271.74 L248.81,1241.42 L249.55,1298.20 L250.43,1287.98 L251.45,1319.14 L252.05,1262.66 L253.01,1325.25 L253.63,1284.80 L254.56,1318.85 L255.46,1261.75 L256.18,1295.49 L257.03,1277.25 L257.66,1310.71 L258.62,1286.91 L259.22,1309.60 L260.23,1271.51 L260.85,1322.99 L261.89,1284.74 L262.56,1321.18 L263.16,1274.28 L263.90,1328.74 L264.69,1290.42 L265.50,1313.45 L266.08,1280.05 L267.00,1319.84 L268.00,1271.36 L268.71,1305.24 L269.42,1271.55 L270.22,1310.14 L270.89,1293.99 L271.77,1311.22 L272.33,1274.79 L273.32,1300.62 L274.35,1262.71 L275.34,1308.79 L275.98,1257.22 L276.63,1311.19 L277.61,1268.37 L278.28,1316.84 L278.95,1265.67 L279.94,1321.44 L280.82,1269.80 L281.59,1328.18 L282.29,1268.52 L283.21,1305.54 L284.20,1273.34 L285.00,1303.08 L285.87,1287.38 L286.89,1313.65 L287.56,1287.16 L288.24,1310.27 L288.81,1266.60 L289.46,1305.87 L290.40,1279.05 L291.34,1304.63 L292.16,1265.13 L292.80,1306.16 L293.74,1287.93 L294.76,1300.61 L295.39,1254.89 L296.38,1305.27 L296.98,1288.16 L297.65,1310.17 L298.65,1257.34 L299.53,1291.54 L300.37,1267.75 L301.03,1292.45 L301.69,1272.49 L302.73,1314.38 L303.32,1254.98 L304.07,1307.02 L304.80,1250.14 L305.40,1311.09 L306.08,1261.01 L306.98,1283.18 L307.63,1259.98 L308.61,1292.26 L309.19,1275.39 L310.22,1291.44 L311.24,1256.23 L311.83,1296.15 L312.46,1256.64 L313.14,1292.01 L313.98,1259.08 L314.57,1296.92 L315.35,1254.92 L316.34,1287.44 L317.12,1251.26 L318.14,1298.50 L318.90,1256.00 L319.60,1305.16 L320.27,1244.76 L321.02,1290.20 L321.88,1251.05 L322.59,1292.67 L323.55,1261.64 L324.29,1284.55 L324.97,1263.72 L325.56,1294.63 L326.53,1270.66 L327.44,1289.67 L328.39,1264.00 L329.35,1301.97 L329.92,1269.37 L330.78,1308.94 L331.69,1262.57 L332.64,1285.55 L333.38,1239.72 L334.39,1293.08 L334.96,1255.31 L335.63,1308.05 L336.34,1253.83 L337.13,1299.53 L337.96,1249.23 L338.93,1279.77 L339.74,1260.45 L340.49,1291.81 L341.10,1252.90 L341.84,1289.33 L342.54,1271.48 L343.43,1288.53 L344.23,1262.92 L344.88,1300.67 L345.77,1273.71 L346.64,1290.38 L347.50,1257.29 L348.39,1300.25 L349.06,1254.15 L349.92,1286.47 L350.56,1255.89 L351.47,1281.34 L352.43,1263.01 L353.40,1288.61 L354.23,1272.02 L355.05,1285.41 L356.01,1261.05 L356.61,1289.83 L357.18,1261.81 L358.02,1285.69 L358.64,1266.05 L359.35,1291.25 L360.30,1261.18 L361.03,1295.94 L361.78,1253.34 L362.54,1290.72 L363.21,1265.10 L364.17,1308.26 L365.08,1267.15 L365.65,1302.05 L366.36,1255.29 L367.25,1282.23 L368.29,1251.45 L369.21,1288.61 L370.16,1252.11 L370.72,1300.23 L371.54,1266.28 L372.16,1298.66 L372.86,1251.25 L373.69,1298.21 L374.32,1266.68 L375.08,1299.18 L375.69,1266.59 L376.28,1292.33 L377.28,1263.56 L378.29,1297.33 L378.97,1263.03 L379.74,1297.09 L380.49,1268.27 L381.41,1300.29 L381.98,1253.00 L382.71,1283.35 L383.51,1243.33 L384.45,1282.19 L385.34,1263.13 L386.28,1302.84 L387.20,1254.69 L388.20,1282.34 L388.94,1242.93 L389.85,1306.90 L390.87,1246.88 L391.69,1284.69 L392.70,1253.05 L393.31,1302.01 L394.03,1245.73 L395.00,1291.78 L395.72,1244.64 L396.55,1308.45 L397.58,1257.30 L398.16,1308.40 L398.79,1266.77 L399.72,1292.08 L400.62,1259.27 L401.30,1274.54 L401.98,1259.39 L402.68,1304.22 L403.65,1256.21 L404.52,1290.00 L405.33,1243.25 L405.94,1291.04 L406.56,1269.98 L407.37,1292.38 L408.10,1263.84 L408.89,1288.21 L409.72,1262.99 L410.73,1291.08 L411.58,1261.64 L412.16,1284.60 L412.99,1259.10 L413.95,1300.33 L414.67,1256.01 L415.32,1286.74 L416.04,1257.47 L416.72,1279.82 L417.60,1251.97 L418.36,1292.82 L419.30,1244.15 L420.14,1293.77 L420.73,1246.80 L421.36,1300.14 L422.25,1240.62 L422.84,1294.19 L423.49,1257.16 L424.42,1308.45 L425.01,1246.19 L425.85,1280.74 L426.63,1253.88 L427.21,1296.07 L428.16,1240.70 L428.73,1280.22 L429.58,1255.55 L430.37,1289.16 L431.34,1251.79 L432.24,1285.39 L432.94,1251.45 L433.74,1280.34 L434.52,1250.44 L435.54,1293.56 L436.22,1229.04 L437.02,1284.43 L437.98,1235.24 L438.94,1291.53 L439.89,1237.83 L440.62,1291.99 L441.49,1260.00 L442.46,1283.08 L443.50,1250.35 L444.43,1289.61 L445.10,1248.01 L445.82,1276.04 L446.83,1256.06 L447.64,1292.12 L448.32,1251.36 L448.91,1274.75 L449.78,1235.53 L450.80,1270.59 L451.63,1236.04 L452.44,1292.15 L453.26,1251.92 L454.19,1290.94 L454.80,1224.10 L455.70,1287.37 L456.61,1254.55 L457.20,1282.48 L457.81,1246.18 L458.42,1291.34 L459.41,1258.66 L460.15,1282.44 L460.90,1248.65 L461.89,1270.86 L462.82,1253.49 L463.73,1292.48 L464.66,1238.38 L465.23,1291.00 L465.89,1233.23 L466.48,1282.99 L467.41,1221.93 L468.24,1295.08 L468.95,1225.53 L469.77,1279.06 L470.65,1241.20 L471.50,1284.45 L472.39,1247.15 L473.13,1297.86 L474.14,1262.47 L474.82,1302.79 L475.79,1260.14 L476.78,1274.38 L477.73,1228.74 L478.36,1271.63 L479.24,1252.73 L480.23,1281.25 L480.81,1249.79 L481.40,1276.20 L482.18,1242.82 L482.86,1297.35 L483.71,1246.04 L484.69,1287.16 L485.49,1243.60 L486.31,1300.69 L486.88,1221.16 L487.86,1287.62 L488.68,1219.37 L489.71,1290.92 L490.52,1264.85 L491.35,1295.94 L492.13,1261.73 L492.97,1276.19 L493.99,1240.32 L494.94,1297.35 L495.96,1249.70 L496.97,1274.77 L497.65,1234.71 L498.65,1278.85 L499.55,1243.11 L500.13,1281.68 L500.71,1250.18 L501.35,1280.49 L502.03,1239.07 L502.60,1275.10 L503.51,1250.24 L504.09,1268.53 L504.67,1246.57 L505.33,1290.53 L506.07,1258.01 L506.86,1280.69 L507.42,1256.24 L508.16,1307.32 L508.86,1246.62 L509.51,1285.98 L510.50,1243.19 L511.13,1292.86 L511.72,1230.69 L512.37,1287.93 L513.02,1221.80 L513.71,1277.31 L514.62,1230.92 L515.37,1278.33 L516.00,1227.97 L516.64,1274.36 L517.48,1225.93 L518.43,1305.84 L519.00,1249.19 L519.73,1274.40 L520.56,1246.52 L521.25,1287.23 L522.04,1252.34 L522.63,1275.14 L523.57,1259.40 L524.32,1298.01 L524.90,1263.23 L525.53,1287.72 L526.24,1244.10 L527.22,1293.89 L527.81,1256.75 L528.80,1272.99 L529.80,1246.99 L530.82,1280.49 L531.76,1254.19 L532.77,1293.28 L533.70,1254.87 L534.48,1279.79 L535.21,1245.75 L536.06,1285.84 L537.09,1245.39 L537.82,1285.77 L538.77,1233.77 L539.45,1275.13 L540.15,1243.07 L541.14,1281.41 L541.84,1256.88 L542.56,1276.99 L543.27,1257.22 L544.00,1280.47 L544.61,1253.48 L545.53,1274.50 L546.17,1244.02 L547.06,1285.72 L547.77,1240.69 L548.70,1269.45 L549.68,1250.93 L550.56,1284.85 L551.25,1255.96 L551.81,1274.63 L552.46,1229.99 L553.13,1281.72 L554.00,1226.29 L554.78,1266.93 L555.50,1218.29 L556.23,1281.31 L556.94,1247.94 L557.51,1296.21 L558.22,1231.41 L558.95,1286.13 L559.95,1236.83 L560.91,1276.92 L561.61,1240.88 L562.33,1264.75 L563.17,1229.60 L563.86,1263.63 L564.43,1230.27 L565.00,1260.33 L565.73,1230.04 L566.72,1282.86 L567.55,1246.86 L568.40,1282.43 L569.32,1235.82 L569.89,1276.75 L570.79,1247.59 L571.77,1269.81 L572.49,1236.31 L573.50,1273.32 L574.23,1247.99 L575.17,1270.82 L576.10,1244.19 L576.81,1283.60 L577.83,1240.92 L578.79,1274.31 L579.56,1233.28 L580.43,1261.31 L581.21,1239.94 L581.83,1256.40 L582.49,1213.29 L583.34,1287.20 L583.94,1234.72 L584.89,1271.16 L585.74,1256.61 L586.49,1287.80 L587.24,1244.95 L587.96,1294.33 L588.95,1241.64 L589.77,1267.65 L590.70,1245.23 L591.73,1277.58 L592.76,1223.08 L593.44,1269.66 L594.32,1228.53 L595.00,1294.94 L595.62,1211.84 L596.21,1296.25 L596.79,1235.48 L597.70,1272.06 L598.46,1217.90 L599.18,1259.09 L599.89,1240.24 L600.62,1299.41 L601.29,1240.11 L601.93,1280.81 L602.59,1247.22 L603.40,1270.92 L603.97,1240.69 L604.86,1268.41 L605.68,1251.23 L606.30,1275.89 L607.09,1247.57 L607.94,1291.09 L608.73,1253.11 L609.53,1297.64 L610.11,1221.23 L611.14,1289.11 L612.02,1233.96 L612.62,1275.53 L613.40,1242.91 L614.16,1277.07 L614.78,1240.52 L615.37,1260.47 L616.21,1211.25 L617.19,1283.64 L618.11,1243.94 L618.79,1286.16 L619.37,1229.18 L620.00,1273.62 L621.03,1243.00 L621.74,1279.51 L622.72,1255.31 L623.54,1285.28 L624.37,1220.84 L625.35,1286.70 L626.29,1246.12 L626.95,1274.60 L627.79,1235.15 L628.58,1287.00 L629.60,1227.50 L630.52,1277.02 L631.12,1246.73 L632.05,1271.06 L632.88,1211.68 L633.78,1282.67 L634.58,1250.45 L635.18,1286.03 L635.91,1240.77 L636.70,1282.07 L637.72,1238.82 L638.30,1295.41 L638.97,1242.84 L639.83,1291.27 L640.73,1231.60 L641.42,1280.74 L642.25,1228.81 L643.05,1267.90 L643.92,1244.82 L644.92,1287.97 L645.61,1227.85 L646.41,1288.37 L647.33,1215.49 L647.94,1287.19 L648.72,1240.26 L649.62,1282.09 L650.42,1248.25 L651.19,1294.36 L651.98,1255.42 L652.87,1286.49 L653.80,1257.47 L654.72,1286.88 L655.48,1241.54 L656.09,1295.68 L656.88,1225.30 L657.46,1308.51 L658.05,1244.50 L658.90,1298.26 L659.71,1233.91 L660.58,1277.55 L661.61,1210.43 L662.29,1267.48 L663.12,1199.94 L664.01,1265.21 L664.93,1206.90 L665.71,1265.39 L666.47,1209.95 L667.48,1272.99 L668.37,1246.33 L668.97,1289.25 L669.66,1268.93 L670.42,1304.44 L671.24,1250.31 L672.10,1289.02 L672.94,1268.54 L673.70,1304.74 L674.33,1257.71 L674.97,1280.15 L676.00,1247.21 L676.73,1302.10 L677.33,1265.85 L677.96,1296.60 L678.98,1265.05 L679.70,1286.99 L680.30,1268.10 L681.19,1283.57 L681.80,1266.87 L682.40,1281.02 L683.20,1255.36 L683.95,1289.95 L684.74,1274.74 L685.32,1289.72 L686.02,1261.12 L687.00,1294.44 L687.61,1266.39 L688.33,1297.98 L689.14,1275.44 L690.00,1296.30 L690.57,1264.76 L691.54,1289.68 L692.55,1250.00 L693.19,1273.48 L694.05,1258.55 L694.83,1283.84 L695.41,1257.79 L696.17,1282.36 L697.09,1265.95 L697.71,1281.45 L698.44,1258.89 L699.41,1274.83 L699.98,1252.83 L701.01,1274.81 L701.93,1255.51 L702.80,1285.34 L703.82,1254.72 L704.48,1272.66 L705.20,1263.61 L706.13,1271.10 L707.09,1239.35 L707.94,1268.37 L708.65,1241.68 L709.49,1264.28 L710.41,1245.29 L711.22,1269.83 L711.83,1243.14 L712.54,1261.61 L713.32,1232.04 L714.04,1279.21 L714.84,1230.96 L715.47,1257.31 L716.05,1242.54 L716.90,1273.13 L717.63,1231.44 L718.36,1277.64 L718.96,1247.56 L719.80,1270.40 L720.57,1248.18 L721.57,1270.46 L722.59,1250.33 L723.22,1261.57 L724.17,1240.66 L724.99,1250.71 L725.97,1236.32 L726.57,1256.38 L727.55,1232.63 L728.48,1263.24 L729.25,1244.26 L730.19,1261.12 L731.11,1232.77 L731.93,1262.88 L732.73,1235.64 L733.48,1270.62 L734.51,1247.39 L735.31,1264.89 L736.26,1269.59 L736.93,1286.12 L737.92,1255.85 L738.91,1310.00 L739.83,1261.31 L740.66,1299.87 L741.61,1260.81 L742.18,1279.30 L742.81,1258.53 L743.69,1292.64 L744.41,1254.52 L745.03,1294.17 L746.05,1260.07 L746.72,1310.00 L747.34,1250.66 L748.24,1288.50 L748.85,1263.97 L749.85,1293.21 L750.59,1268.78 L751.36,1292.43 L751.96,1258.14 L752.62,1295.27 L753.26,1262.84 L754.22,1280.94 L755.20,1263.01 L755.82,1302.72 L756.72,1257.76 L757.30,1284.28 L758.25,1257.71 L758.91,1300.00 L759.62,1241.00 L760.62,1298.96 L761.18,1250.26 L761.88,1281.52 L762.62,1254.64 L763.30,1281.34 L764.03,1250.93 L764.74,1301.10 L765.41,1270.15 L766.13,1303.23 L767.03,1265.70 L767.68,1294.51 L768.72,1245.31 L769.46,1300.72 L770.04,1245.87 L770.80,1294.54 L771.56,1251.31 L772.47,1305.76 L773.08,1265.33 L773.65,1313.69 L774.51,1261.12 L775.48,1279.24 L776.20,1251.90 L777.08,1312.63 L778.08,1244.17 L779.02,1287.14 L779.59,1256.84 L780.63,1292.62 L781.38,1258.88 L781.98,1281.36 L782.64,1259.82 L783.26,1287.57 L783.86,1259.96 L784.84,1307.76 L785.85,1243.52 L786.68,1274.03 L787.60,1253.81 L788.27,1298.94 L788.88,1265.01 L789.92,1307.65 L790.89,1261.88 L791.53,1275.48 L792.52,1251.69 L793.52,1294.19 L794.24,1237.57 L795.00,1275.31 L795.57,1246.88 L796.32,1298.54 L797.05,1240.61 L797.81,1284.49 L798.62,1256.65 L799.65,1299.19 L800.66,1256.42 L801.31,1287.07 L801.97,1246.37 L802.90,1275.94 L803.68,1240.81 L804.32,1282.02 L805.08,1233.17 L805.76,1273.79 L806.68,1235.59 L807.33,1270.78 L808.15,1237.88 L809.00,1255.11 L810.00,1239.32 L810.85,1258.83 L811.81,1241.17 L812.66,1255.23 L813.42,1234.87 L814.41,1256.01 L815.01,1241.97 L815.72,1260.16 L816.58,1241.20 L817.46,1266.10 L818.12,1242.30 L818.98,1253.86 L819.91,1228.34 L820.51,1255.34 L821.21,1231.46 L821.94,1255.77 L822.95,1239.47 L823.67,1255.35 L824.35,1235.65 L825.14,1249.82 L825.97,1228.70 L826.59,1248.57 L827.56,1239.44 L828.33,1248.93 L829.34,1240.01 L830.35,1261.79 L831.25,1238.63 L832.24,1267.87 L832.82,1244.21 L833.64,1261.73 L834.30,1243.84 L835.23,1262.35 L835.80,1227.59 L836.51,1243.95 L837.50,1236.10 L838.44,1251.69 L839.27,1239.91 L839.95,1262.20 L840.94,1234.77 L841.69,1249.11 L842.47,1231.24 L843.34,1247.33 L844.04,1233.77 L844.82,1253.95 L845.55,1238.10 L846.26,1251.14 L846.97,1238.80 L847.84,1256.40 L848.71,1244.02 L849.47,1261.16 L850.40,1243.41 L851.14,1251.05 L852.17,1226.40 L853.11,1240.25 L853.68,1220.16 L854.25,1248.24 L854.93,1231.63 L855.80,1248.44 L856.76,1235.86 L857.75,1248.73" fill="none" stroke-width="2.8" stroke-linejoin="round" stroke-linecap="round"/>
<path d="M180.0,1178.7 L181.5,1180.8 L183.0,1180.5 L184.5,1179.9 L186.0,1178.9 L187.5,1181.2 L189.0,1181.2 L189.3,1180.0 L189.3,1248.0 L187.8,1249.1 L186.3,1250.0 L184.8,1248.5 L183.3,1247.7 L181.8,1249.7 L180.3,1246.8 L180.0,1249.1Z" stroke="none"/>
<path d="M164.0,1209.2 L165.5,1205.8 L167.0,1223.0 L168.5,1218.3 L170.0,1220.8 L171.5,1216.1 L173.0,1205.6 L174.5,1210.9 L176.0,1214.0 L177.5,1207.1 L179.0,1222.1 L180.0,1211.6 L180.0,1297.2 L178.5,1285.3 L177.0,1297.8 L175.5,1283.3 L174.0,1291.8 L172.5,1290.1 L171.0,1293.8 L169.5,1291.3 L168.0,1296.6 L166.5,1299.3 L165.0,1284.4 L164.0,1295.8Z" stroke="none"/>
<path d="M151.5,1251.4 L153.0,1244.5 L154.5,1253.6 L156.0,1252.7 L157.5,1251.1 L159.0,1251.2 L160.5,1249.0 L162.0,1250.8 L163.5,1243.5 L164.0,1247.7 L164.0,1293.1 L162.5,1300.6 L161.0,1291.9 L159.5,1292.3 L158.0,1298.1 L156.5,1298.6 L155.0,1297.6 L153.5,1298.4 L152.0,1291.1 L151.5,1298.4Z" stroke="none"/>
<line x1="663.8" y1="1186.5" x2="663.8" y2="1250" stroke-width="2.4" stroke-linecap="round"/>
<line x1="664.8" y1="1195" x2="664.8" y2="1250" stroke-width="2.4" stroke-linecap="round"/>
<line x1="666" y1="1201" x2="666" y2="1250" stroke-width="2.4" stroke-linecap="round"/>
<line x1="477.8" y1="1280" x2="477.8" y2="1339" stroke-width="2.4" stroke-linecap="round"/>
<line x1="514.6" y1="1280" x2="514.6" y2="1333.5" stroke-width="2.4" stroke-linecap="round"/>
<line x1="379.9" y1="1280" x2="379.9" y2="1325" stroke-width="2.4" stroke-linecap="round"/>
<line x1="403.7" y1="1290" x2="403.7" y2="1329.5" stroke-width="2.4" stroke-linecap="round"/>
<line x1="192" y1="1290" x2="192" y2="1344" stroke-width="2.4" stroke-linecap="round"/>
<line x1="167" y1="1320" x2="167" y2="1355" stroke-width="2.4" stroke-linecap="round"/>
<line x1="775" y1="1290" x2="775" y2="1329.5" stroke-width="2.4" stroke-linecap="round"/>
<line x1="777.5" y1="1290" x2="777.5" y2="1329.5" stroke-width="2.4" stroke-linecap="round"/>
<line x1="839.5" y1="1255" x2="839.5" y2="1274" stroke-width="2.4" stroke-linecap="round"/>
<line x1="150" y1="1205" x2="150" y2="1260" stroke-width="2.4" stroke-linecap="round"/>
<line x1="156" y1="1180" x2="156" y2="1230" stroke-width="2.4" stroke-linecap="round"/>
<line x1="183" y1="1172" x2="183" y2="1200" stroke-width="2.4" stroke-linecap="round"/>
<line x1="186" y1="1172" x2="186" y2="1200" stroke-width="2.4" stroke-linecap="round"/>
<line x1="188" y1="1172" x2="188" y2="1200" stroke-width="2.4" stroke-linecap="round"/>
<path d="M129.12,1191.50V1270.50M123.12,1191.50h12.0M123.12,1270.50h12.0" stroke-width="1.7" fill="none" stroke-linecap="round"/>
<path d="M299.20,1191.20V1296.00M293.20,1191.20h12.0M293.20,1296.00h12.0" stroke-width="1.7" fill="none" stroke-linecap="round"/>
<path d="M338.44,1169.40V1284.60M332.44,1169.40h12.0M332.44,1284.60h12.0" stroke-width="1.7" fill="none" stroke-linecap="round"/>
<path d="M403.86,1201.60V1308.90M397.86,1201.60h12.0M397.86,1308.90h12.0" stroke-width="1.7" fill="none" stroke-linecap="round"/>
<path d="M430.03,1211.10V1319.30M424.03,1211.10h12.0M424.03,1319.30h12.0" stroke-width="1.7" fill="none" stroke-linecap="round"/>
<path d="M482.36,1204.40V1293.30M476.36,1204.40h12.0M476.36,1293.30h12.0" stroke-width="1.7" fill="none" stroke-linecap="round"/>
<path d="M521.61,1202.00V1256.00M515.61,1202.00h12.0M515.61,1256.00h12.0" stroke-width="1.7" fill="none" stroke-linecap="round"/>
<path d="M560.86,1210.30V1294.40M554.86,1210.30h12.0M554.86,1294.40h12.0" stroke-width="1.7" fill="none" stroke-linecap="round"/>
<path d="M678.60,1217.00V1272.00M672.60,1217.00h12.0M672.60,1272.00h12.0" stroke-width="1.7" fill="none" stroke-linecap="round"/>
<path d="M770.18,1197.70V1282.00M764.18,1197.70h12.0M764.18,1282.00h12.0" stroke-width="1.7" fill="none" stroke-linecap="round"/>
<path d="M796.35,1205.40V1291.00M790.35,1205.40h12.0M790.35,1291.00h12.0" stroke-width="1.7" fill="none" stroke-linecap="round"/>
<path d="M861.77,1211.70V1272.60M855.77,1211.70h12.0M855.77,1272.60h12.0" stroke-width="1.7" fill="none" stroke-linecap="round"/>
<path d="M129.12,1193.30V1291.10M123.12,1193.30h12.0M123.12,1291.10h12.0" stroke-width="1.7" fill="none" stroke-linecap="round"/>
<path d="M299.20,1191.20V1297.10M293.20,1191.20h12.0M293.20,1297.10h12.0" stroke-width="1.7" fill="none" stroke-linecap="round"/>
<path d="M338.44,1174.60V1283.80M332.44,1174.60h12.0M332.44,1283.80h12.0" stroke-width="1.7" fill="none" stroke-linecap="round"/>
<path d="M403.86,1204.40V1322.20M397.86,1204.40h12.0M397.86,1322.20h12.0" stroke-width="1.7" fill="none" stroke-linecap="round"/>
<path d="M430.03,1229.60V1309.60M424.03,1229.60h12.0M424.03,1309.60h12.0" stroke-width="1.7" fill="none" stroke-linecap="round"/>
<path d="M482.36,1206.40V1307.70M476.36,1206.40h12.0M476.36,1307.70h12.0" stroke-width="1.7" fill="none" stroke-linecap="round"/>
<path d="M521.61,1203.00V1262.00M515.61,1203.00h12.0M515.61,1262.00h12.0" stroke-width="1.7" fill="none" stroke-linecap="round"/>
<path d="M560.86,1227.50V1303.00M554.86,1227.50h12.0M554.86,1303.00h12.0" stroke-width="1.7" fill="none" stroke-linecap="round"/>
<path d="M678.60,1220.00V1268.00M672.60,1220.00h12.0M672.60,1268.00h12.0" stroke-width="1.7" fill="none" stroke-linecap="round"/>
<path d="M770.18,1226.20V1254.00M764.18,1226.20h12.0M764.18,1254.00h12.0" stroke-width="1.7" fill="none" stroke-linecap="round"/>
<path d="M796.35,1217.60V1292.00M790.35,1217.60h12.0M790.35,1292.00h12.0" stroke-width="1.7" fill="none" stroke-linecap="round"/>
<path d="M861.77,1215.60V1257.00M855.77,1215.60h12.0M855.77,1257.00h12.0" stroke-width="1.7" fill="none" stroke-linecap="round"/>
<circle cx="129.12" cy="1230.00" r="9.0"/>
<circle cx="299.20" cy="1243.50" r="9.0"/>
<circle cx="338.44" cy="1227.50" r="9.0"/>
<circle cx="403.86" cy="1255.00" r="9.0"/>
<circle cx="430.03" cy="1265.00" r="9.0"/>
<circle cx="482.36" cy="1249.00" r="9.0"/>
<circle cx="521.61" cy="1229.50" r="9.0"/>
<circle cx="560.86" cy="1250.00" r="9.0"/>
<circle cx="678.60" cy="1247.00" r="9.0"/>
<circle cx="770.18" cy="1240.00" r="9.0"/>
<circle cx="796.35" cy="1248.00" r="9.0"/>
<circle cx="861.77" cy="1242.20" r="9.0"/>
<circle cx="129.12" cy="1240.70" r="8.4" fill="#fff" stroke-width="1.6"/>
<circle cx="299.20" cy="1243.70" r="8.4" fill="#fff" stroke-width="1.6"/>
<circle cx="338.44" cy="1228.90" r="8.4" fill="#fff" stroke-width="1.6"/>
<circle cx="403.86" cy="1256.70" r="8.4" fill="#fff" stroke-width="1.6"/>
<circle cx="430.03" cy="1270.00" r="8.4" fill="#fff" stroke-width="1.6"/>
<circle cx="482.36" cy="1250.00" r="8.4" fill="#fff" stroke-width="1.6"/>
<circle cx="521.61" cy="1232.20" r="8.4" fill="#fff" stroke-width="1.6"/>
<circle cx="560.86" cy="1252.00" r="8.4" fill="#fff" stroke-width="1.6"/>
<circle cx="678.60" cy="1243.70" r="8.4" fill="#fff" stroke-width="1.6"/>
<circle cx="770.18" cy="1240.10" r="8.4" fill="#fff" stroke-width="1.6"/>
<circle cx="796.35" cy="1254.70" r="8.4" fill="#fff" stroke-width="1.6"/>
<circle cx="861.77" cy="1236.30" r="8.4" fill="#fff" stroke-width="1.6"/>
<text stroke="none" transform="translate(37.9,248.2) rotate(-90)" font-size="38" text-anchor="middle">IOP (mmHg)</text>
<text stroke="none" transform="translate(37.9,687.6) rotate(-90)" font-size="38" text-anchor="middle">IOP (mmHg)</text>
<text stroke="none" transform="translate(38.0,1269.6) rotate(-90)" font-size="38" text-anchor="middle">IOP(mmHg)</text>
<text stroke="none" x="523.60" y="997.80" font-size="37.6" text-anchor="middle" >Duration (days)</text>
<text stroke="none" x="522.40" y="1575.10" font-size="37.6" text-anchor="middle" >Duration (days)</text>
<text transform="translate(0.3,47.0) scale(0.95,1)" font-size="67" font-weight="bold" stroke="#000" stroke-width="1.0" stroke-linejoin="round">A</text>
<text transform="translate(3.8,1040.8) scale(0.83,1)" font-size="67" font-weight="bold" stroke="#000" stroke-width="1.0" stroke-linejoin="round">B</text>
<circle cx="194.1" cy="15.3" r="8.3"/>
<text stroke="none" x="212.20" y="23.60" font-size="30.5" text-anchor="start" >implanted eye</text>
<circle cx="591" cy="15.3" r="7.8" fill="#fff" stroke-width="1.6"/>
<text stroke="none" x="608.80" y="23.60" font-size="30.5" text-anchor="start" >nonimplanted eye</text>
</g>
</svg>
</body></html>
